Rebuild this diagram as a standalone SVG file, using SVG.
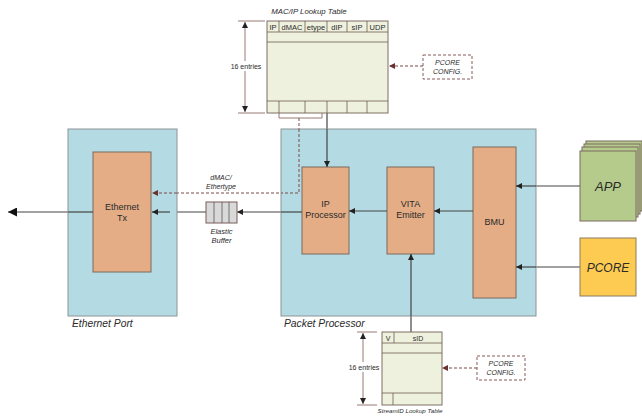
<svg xmlns="http://www.w3.org/2000/svg" width="642" height="420" viewBox="0 0 642 420">
  <defs>
    <marker id="ah" viewBox="0 0 10 10" refX="10" refY="5" markerWidth="6" markerHeight="6" orient="auto-start-reverse" markerUnits="userSpaceOnUse">
      <path d="M0,0 L10,5 L0,10 z" fill="#222"/>
    </marker>
    <marker id="ahBig" viewBox="0 0 10 10" refX="10" refY="5" markerWidth="9" markerHeight="9" orient="auto" markerUnits="userSpaceOnUse">
      <path d="M0,0 L10,5 L0,10 z" fill="#111"/>
    </marker>
    <marker id="ahDash" viewBox="0 0 10 10" refX="10" refY="5" markerWidth="6" markerHeight="6" orient="auto" markerUnits="userSpaceOnUse">
      <path d="M0,0 L10,5 L0,10 z" fill="#6b3030"/>
    </marker>
  </defs>
  <style>
    .region { fill: #b4dbe3; stroke: #8c9496; stroke-width: 1; }
    .block { fill: #e4ad86; stroke: #7a6a5e; stroke-width: 1; }
    .tbl { fill: #eef1dd; stroke: #7e6e62; stroke-width: 1; }
    .cell { fill: none; stroke: #6e5e54; stroke-width: 0.8; }
    .conn { fill: none; stroke: #444; stroke-width: 1.2; }
    .dash { fill: none; stroke: #7a4a4a; stroke-width: 1; stroke-dasharray: 3 2; }
    .dim { fill: none; stroke: #9a7a74; stroke-width: 1; }
    .cfg { fill: #ffffff; stroke: #8a5a5a; stroke-width: 1; stroke-dasharray: 3 2; }
    .t { font-family: "Liberation Sans", Arial, sans-serif; fill: #2a2a2a; text-anchor: middle; }
    .lbl { font-size: 9px; }
    .small { font-size: 7px; }
    .hdr { font-size: 7.5px; }
    .it { font-style: italic; }
    .big { font-size: 10.3px; }
  </style>

  <!-- connectors -->
  <g id="connectors">
    <!-- output from Ethernet Tx -->
    <line class="conn" x1="93" y1="212" x2="8" y2="212" marker-end="url(#ahBig)"/>
    <!-- IP Processor to elastic buffer -->
    <line class="conn" x1="302" y1="212" x2="237" y2="212" marker-end="url(#ah)"/>
    <!-- elastic buffer to Ethernet Tx -->
    <line class="conn" x1="206" y1="212" x2="152" y2="212" marker-end="url(#ah)"/>
    <!-- VITA Emitter to IP Processor -->
    <line class="conn" x1="387" y1="211" x2="349" y2="211" marker-end="url(#ah)"/>
    <!-- BMU to VITA Emitter -->
    <line class="conn" x1="473" y1="211" x2="434" y2="211" marker-end="url(#ah)"/>
    <!-- APP to BMU -->
    <line class="conn" x1="580" y1="186" x2="516" y2="186" marker-end="url(#ah)"/>
    <!-- PCORE to BMU -->
    <line class="conn" x1="580" y1="267" x2="516" y2="267" marker-end="url(#ah)"/>
    <!-- MAC/IP table to IP Processor -->
    <line class="conn" x1="327" y1="113" x2="327" y2="167" marker-end="url(#ah)"/>
    <!-- StreamID table to VITA Emitter -->
    <line class="conn" x1="411" y1="332" x2="411" y2="254" marker-end="url(#ah)"/>
    <!-- dMAC/Ethertype from table to Ethernet Tx -->
    <path class="dim" d="M279,113 V118 H322 V113"/>
    <path class="dash" d="M299,118 V193 H152" marker-end="url(#ahDash)"/>
    <!-- PCORE config arrows -->
    <line class="dash" x1="423" y1="66" x2="389" y2="66" marker-end="url(#ahDash)"/>
    <line class="dash" x1="477" y1="368" x2="442" y2="368" marker-end="url(#ahDash)"/>
  </g>

  <!-- Ethernet Port -->
  <g id="ethernet-port">
    <rect class="region" x="68" y="129" width="109" height="187"/>
    <text class="t it big" x="72" y="327" style="text-anchor:start">Ethernet Port</text>
  </g>
  <g id="ethernet-tx">
    <rect class="block" x="93" y="152" width="58" height="120"/>
    <text class="t lbl" x="122" y="210">Ethernet</text>
    <text class="t lbl" x="122" y="221">Tx</text>
  </g>

  <!-- Packet Processor -->
  <g id="packet-processor">
    <rect class="region" x="281" y="129" width="255" height="187"/>
    <text class="t it big" x="284" y="327" style="text-anchor:start">Packet Processor</text>
  </g>
  <g id="ip-processor">
    <rect class="block" x="302" y="167" width="47" height="87"/>
    <text class="t lbl" x="325.5" y="207">IP</text>
    <text class="t lbl" x="325.5" y="218">Processor</text>
  </g>
  <g id="vita-emitter">
    <rect class="block" x="387" y="167" width="47" height="87"/>
    <text class="t lbl" x="410.5" y="207">VITA</text>
    <text class="t lbl" x="410.5" y="218">Emitter</text>
  </g>
  <g id="bmu">
    <rect class="block" x="473" y="147" width="43" height="151"/>
    <text class="t lbl" x="494.5" y="225">BMU</text>
  </g>

  <!-- the connectors are drawn again over the regions -->
  <g id="connectors-top">
    <line class="conn" x1="93" y1="212" x2="68" y2="212"/>
    <line class="conn" x1="302" y1="212" x2="281" y2="212"/>
    <line class="conn" x1="170" y1="212" x2="152" y2="212" marker-end="url(#ah)"/>
    <line class="conn" x1="387" y1="211" x2="349" y2="211" marker-end="url(#ah)"/>
    <line class="conn" x1="473" y1="211" x2="434" y2="211" marker-end="url(#ah)"/>
    <line class="conn" x1="536" y1="186" x2="516" y2="186" marker-end="url(#ah)"/>
    <line class="conn" x1="536" y1="267" x2="516" y2="267" marker-end="url(#ah)"/>
    <line class="conn" x1="327" y1="129" x2="327" y2="167" marker-end="url(#ah)"/>
    <line class="conn" x1="411" y1="316" x2="411" y2="254" marker-end="url(#ah)"/>
    <path class="dash" d="M299,129 V193 H281"/>
    <line class="dash" x1="177" y1="193" x2="152" y2="193" marker-end="url(#ahDash)"/>
  </g>

  <!-- dMAC/Ethertype label -->
  <g id="dmac-label">
    <text class="t small it" x="221" y="180">dMAC/</text>
    <text class="t small it" x="221" y="189">Ethertype</text>
  </g>

  <!-- Elastic buffer -->
  <g id="elastic-buffer">
    <rect x="206" y="202" width="31" height="21" fill="#d9d9d9" stroke="#7a5a5a" stroke-width="1"/>
    <line x1="214" y1="202" x2="214" y2="223" stroke="#555" stroke-width="0.8"/>
    <line x1="222" y1="202" x2="222" y2="223" stroke="#555" stroke-width="0.8"/>
    <line x1="229" y1="202" x2="229" y2="223" stroke="#555" stroke-width="0.8"/>
    <text class="t hdr it" x="221.5" y="234">Elastic</text>
    <text class="t hdr it" x="221.5" y="243">Buffer</text>
  </g>

  <!-- MAC/IP lookup table -->
  <g id="macip-table">
    <text class="t it" x="309" y="14" font-size="7.8">MAC/IP Lookup Table</text>
    <rect class="tbl" x="267" y="21" width="121" height="92"/>
    <line class="cell" x1="267" y1="32" x2="388" y2="32"/>
    <line class="cell" x1="267" y1="42" x2="388" y2="42"/>
    <line class="cell" x1="267" y1="101" x2="388" y2="101"/>
    <g class="cell">
      <line x1="279" y1="21" x2="279" y2="32"/>
      <line x1="305" y1="21" x2="305" y2="32"/>
      <line x1="327" y1="21" x2="327" y2="32"/>
      <line x1="347" y1="21" x2="347" y2="32"/>
      <line x1="367" y1="21" x2="367" y2="32"/>
      <line x1="279" y1="101" x2="279" y2="113"/>
      <line x1="305" y1="101" x2="305" y2="113"/>
      <line x1="327" y1="101" x2="327" y2="113"/>
      <line x1="347" y1="101" x2="347" y2="113"/>
      <line x1="367" y1="101" x2="367" y2="113"/>
    </g>
    <text class="t hdr" x="273" y="29.5">IP</text>
    <text class="t hdr" x="292" y="29.5">dMAC</text>
    <text class="t hdr" x="316" y="29.5">etype</text>
    <text class="t hdr" x="337" y="29.5">dIP</text>
    <text class="t hdr" x="357" y="29.5">sIP</text>
    <text class="t hdr" x="377.5" y="29.5">UDP</text>
    <!-- entry count dimension -->
    <line class="dim" x1="238" y1="21" x2="265" y2="21"/>
    <line class="dim" x1="238" y1="113" x2="265" y2="113"/>
    <line class="dim" x1="245" y1="22" x2="245" y2="61" marker-start="url(#ah)"/>
    <line class="dim" x1="245" y1="71" x2="245" y2="112" marker-end="url(#ah)"/>
    <text class="t small" x="246" y="68.5">16 entries</text>
  </g>
  <g id="pcore-config-1">
    <rect class="cfg" x="423" y="55" width="49" height="24"/>
    <text class="t small it" x="447.5" y="65">PCORE</text>
    <text class="t small it" x="447.5" y="74">CONFIG.</text>
  </g>

  <!-- StreamID lookup table -->
  <g id="streamid-table">
    <rect class="tbl" x="382" y="332" width="60" height="73"/>
    <line class="cell" x1="382" y1="343" x2="442" y2="343"/>
    <line class="cell" x1="382" y1="353" x2="442" y2="353"/>
    <line class="cell" x1="382" y1="393" x2="442" y2="393"/>
    <line class="cell" x1="394" y1="332" x2="394" y2="343"/>
    <line class="cell" x1="393" y1="393" x2="393" y2="405"/>
    <text class="t small" x="388" y="340.5">V</text>
    <text class="t small" x="418" y="340.5">sID</text>
    <line class="dim" x1="357" y1="332" x2="377" y2="332"/>
    <line class="dim" x1="357" y1="405" x2="377" y2="405"/>
    <line class="dim" x1="363" y1="333" x2="363" y2="362" marker-start="url(#ah)"/>
    <line class="dim" x1="363" y1="372" x2="363" y2="404" marker-end="url(#ah)"/>
    <text class="t small" x="364" y="369.5">16 entries</text>
    <text class="t it" x="410" y="413" font-size="6.2">StreamID Lookup Table</text>
  </g>
  <g id="pcore-config-2">
    <rect class="cfg" x="477" y="356" width="48" height="24"/>
    <text class="t small it" x="501" y="366">PCORE</text>
    <text class="t small it" x="501" y="375">CONFIG.</text>
  </g>

  <!-- APP (stack of cards) -->
  <g id="app">
    <rect x="586" y="141" width="56" height="70" fill="#b5cb8b" stroke="#7a6a5e" stroke-width="1"/>
    <rect x="584" y="144" width="56" height="70" fill="#b5cb8b" stroke="#7a6a5e" stroke-width="1"/>
    <rect x="582" y="147" width="56" height="70" fill="#b5cb8b" stroke="#7a6a5e" stroke-width="1"/>
    <rect x="580" y="151" width="56" height="70" fill="#b5cb8b" stroke="#7a6a5e" stroke-width="1"/>
    <text class="t it" x="608" y="191" font-size="13">APP</text>
  </g>
  <g id="pcore">
    <rect x="580" y="238" width="56" height="58" fill="#fecb52" stroke="#8a7a5e" stroke-width="1"/>
    <text class="t it" x="608" y="271.5" font-size="12">PCORE</text>
  </g>
</svg>
